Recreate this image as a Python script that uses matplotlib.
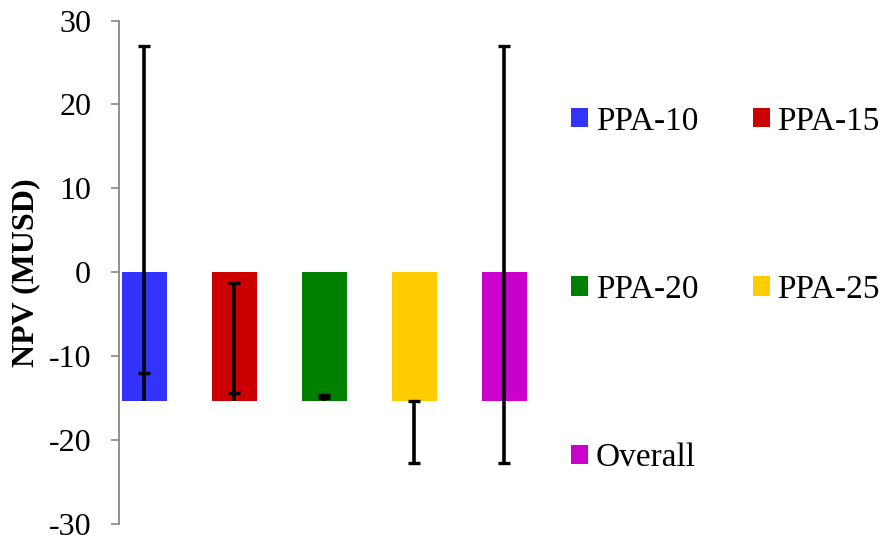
import matplotlib
matplotlib.use("Agg")
import matplotlib.pyplot as plt
from matplotlib.patches import Patch

plt.rcParams['font.family'] = ['Liberation Serif', 'DejaVu Serif']

categories = ["PPA-10", "PPA-15", "PPA-20", "PPA-25", "Overall"]
npv = [-15.3, -15.3, -15.3, -15.3, -15.3]
# Excel-style custom error amounts (a negative minus amount puts the cap above the bar end)
err_plus = [42.3, 14.0, 0.7, 0.0, 42.3]
err_minus = [-3.3, -0.9, -0.3, 7.4, 7.4]
colors = ["#3333FF", "#CC0000", "#008000", "#FFCC00", "#CC00CC"]
yticks = [-30, -20, -10, 0, 10, 20, 30]

W, H = 885, 539
fig = plt.figure(figsize=(W / 100, H / 100), dpi=100)
ax = fig.add_axes([119 / W, 1 - 524 / H, (529.5 - 119) / W, (524 - 20.5) / H])

x = list(range(len(categories)))
ax.bar(x, npv, width=0.5, color=colors, zorder=2)

for xi, v, p, m in zip(x, npv, err_plus, err_minus):
    hi = v + p
    lo = v - m
    top = max(v, hi, lo)
    bot = min(v, hi, lo)
    ax.vlines(xi, bot, top, color="black", linewidth=2.6, zorder=3)
    ax.plot([xi, xi], [hi, lo], linestyle="none", marker="_", markersize=9,
            markeredgewidth=2.4, color="black", zorder=4)

ax.set_xlim(-0.283, 4.283)
ax.set_ylim(-30, 30)
ax.set_yticks(yticks)
ax.set_yticklabels([str(t) for t in yticks])
ax.tick_params(axis="y", direction="out", length=6, width=1.2, color="#888888",
               labelsize=23, pad=14)
ax.set_xticks([])
for s in ["top", "right", "bottom"]:
    ax.spines[s].set_visible(False)
ax.spines["left"].set_color("#888888")
ax.spines["left"].set_linewidth(1.3)
ax.set_ylabel("NPV (MUSD)", fontsize=23, fontweight="bold", labelpad=6)

# row-major legend order: two columns
order = [0, 2, 4, 1, 3]
handles = [Patch(facecolor=colors[i], edgecolor="none") for i in order]
labels = [categories[i] for i in order]
fig.legend(handles, labels, ncol=2, frameon=False, fontsize=24,
           loc="upper left", bbox_to_anchor=(571 / W, 1 - 106 / H),
           handlelength=0.52, handleheight=0.52, handletextpad=0.22,
           labelspacing=4.14, columnspacing=1.63, borderaxespad=0, borderpad=0)

fig.savefig("out.png", dpi=100)
